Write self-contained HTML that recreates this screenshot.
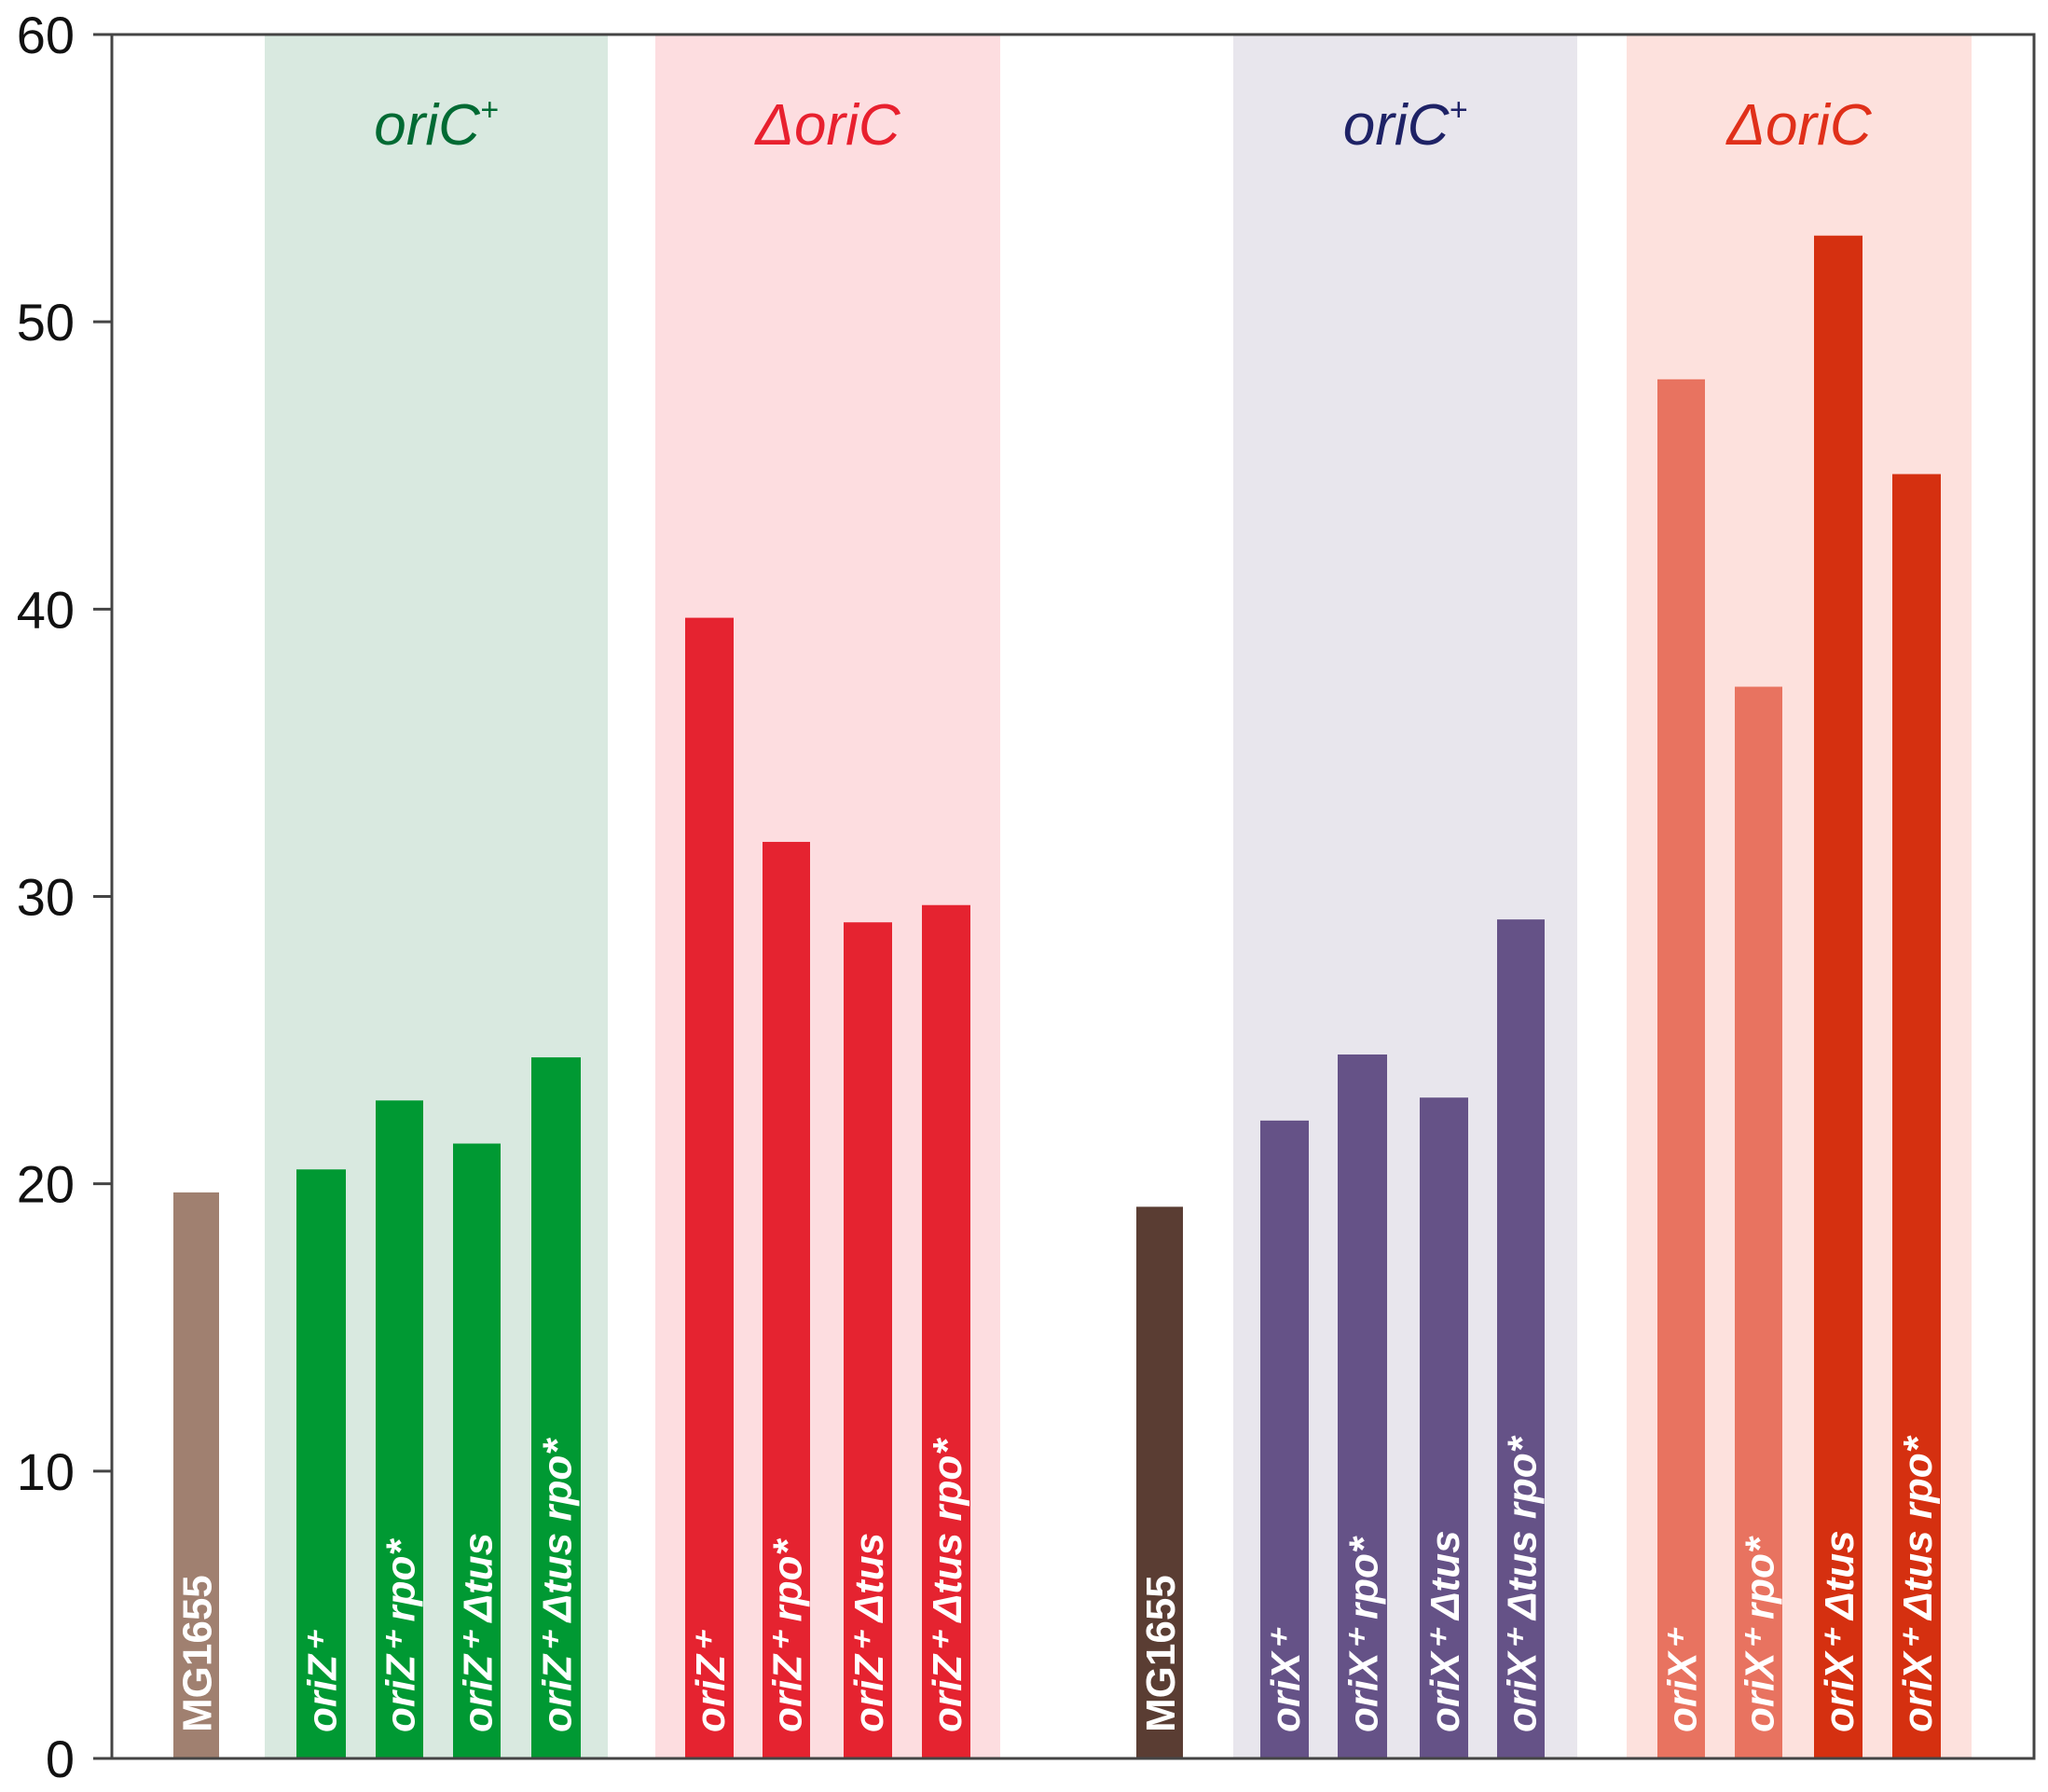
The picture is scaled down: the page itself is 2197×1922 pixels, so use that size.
<!DOCTYPE html>
<html><head><meta charset="utf-8"><style>
html,body{margin:0;padding:0;background:#fff}
svg{display:block}
text{font-family:"Liberation Sans Narrow","Liberation Sans",sans-serif}
</style></head><body>
<svg id="chart" width="2197" height="1922" viewBox="0 0 2197 1922" xmlns="http://www.w3.org/2000/svg"></svg>
<script>
const yTicks=[0,10,20,30,40,50,60];
const groupNames=["oriC+","ΔoriC","oriC+","ΔoriC"];
const barLabels=["MG1655","oriZ⁺","oriZ⁺ rpo*","oriZ⁺ Δtus","oriZ⁺ Δtus rpo*","oriZ⁺","oriZ⁺ rpo*","oriZ⁺ Δtus","oriZ⁺ Δtus rpo*","MG1655","oriX⁺","oriX⁺ rpo*","oriX⁺ Δtus","oriX⁺ Δtus rpo*","oriX⁺","oriX⁺ rpo*","oriX⁺ Δtus","oriX⁺ Δtus rpo*"];
const values=[19.7,20.5,22.9,21.4,24.4,39.7,31.9,29.1,29.7,19.2,22.2,24.5,23.0,29.2,48.0,37.3,53.0,44.7];

const svg=document.getElementById('chart');
const NS='http://www.w3.org/2000/svg';
const y0=1886,yTop=37,yMax=60;
function yS(v){return y0-(v/yMax)*(y0-yTop);}
const barX=[186,318,403,486,570,735,818,905,989,1219,1352,1435,1523,1606,1778,1861,1946,2030];
const barW=[49,53,51,51,53,52,51,52,52,50,52,53,52,51,51,51,52,52];
const barC=["#a08070","#009933","#009933","#009933","#009933","#e52330","#e52330","#e52330","#e52330","#5a3d33","#655287","#655287","#655287","#655287","#e87360","#e87360","#d53010","#d53010"];
const bgs=[[284,652,"#d9e9e0"],[703,1073,"#fddde0"],[1323,1692,"#e8e6ed"],[1745,2115,"#fde1dd"]];
const hdrC=["#006a33","#e8202e","#1e2266","#e0301a"];
function mk(tag,attrs,parent){const e=document.createElementNS(NS,tag);for(const k in attrs)e.setAttribute(k,attrs[k]);(parent||svg).appendChild(e);return e;}
bgs.forEach((b,i)=>{
  const r=mk('rect',{x:b[0],y:yTop,width:b[1]-b[0],height:y0-yTop,fill:b[2]});
  
  
  const t=mk('text',{x:(b[0]+b[1])/2,y:155,'text-anchor':'middle','font-size':62,'font-style':'italic',fill:hdrC[i]});
  
  
  const nm=groupNames[i];
  if(nm.endsWith('+')){t.textContent=nm.slice(0,-1);const s=mk('tspan',{'font-size':34,dy:-26},t);s.textContent='+';}
  else t.textContent=nm;
});
values.forEach((v,i)=>{
  const yy=yS(v);
  const r=mk('rect',{x:barX[i],y:yy,width:barW[i],height:y0-yy,fill:barC[i]});
  
  
  const cx=barX[i]+barW[i]/2+16;
  const t=mk('text',{x:0,y:0,transform:`translate(${cx},1858) rotate(-90)`,'font-size':44,'font-style':i===0||i===9?'normal':'italic','font-weight':'bold',fill:'#fff'});
  t.textContent=barLabels[i];
  
  
});
const ax=mk('path',{d:`M120 ${yTop} V${y0} H2182 V${yTop} H120`,fill:'none',stroke:'#444',"stroke-width":3});


yTicks.forEach(v=>{
  const yy=yS(v);
  const l=mk('line',{x1:100,x2:120,y1:yy,y2:yy,stroke:'#444','stroke-width':3});
  
  
  const t=mk('text',{x:80,y:yy+20,'text-anchor':'end','font-size':56,fill:'#111'});
  t.textContent=v;
  
  
});
</script>
</body></html>
